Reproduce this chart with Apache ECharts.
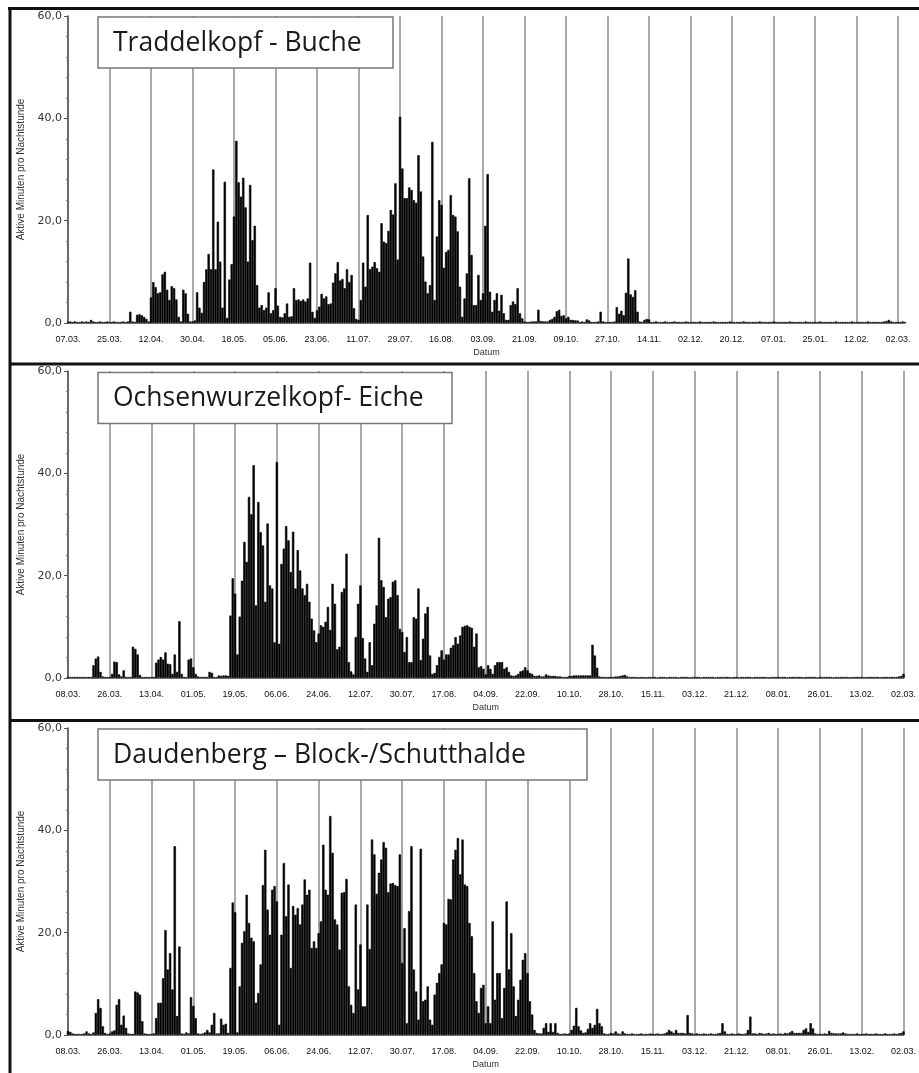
<!DOCTYPE html>
<html>
<head>
<meta charset="utf-8">
<script src="https://cdn.jsdelivr.net/npm/echarts@6/dist/echarts.min.js"></script>
<style>
html,body{margin:0;padding:0;background:#fff;}
#c{width:919px;height:1073px;}
</style>
</head>
<body>
<div id="c"></div>
<script>
// ---------- tick labels ----------
const ticks1 = ['07.03.','25.03.','12.04.','30.04.','18.05.','05.06.','23.06.','11.07.','29.07.','16.08.','03.09.','21.09.','09.10.','27.10.','14.11.','02.12.','20.12.','07.01.','25.01.','12.02.','02.03.'];
const ticks2 = ['08.03.','26.03.','13.04.','01.05.','19.05.','06.06.','24.06.','12.07.','30.07.','17.08.','04.09.','22.09.','10.10.','28.10.','15.11.','03.12.','21.12.','08.01.','26.01.','13.02.','02.03.'];
const ticks3 = ticks2;

const titles = ['Traddelkopf - Buche', 'Ochsenwurzelkopf- Eiche', 'Daudenberg \u2013 Block-/Schutthalde'];
const yName = 'Aktive Minuten pro Nachtstunde';
const xName = 'Datum';

// ---------- daily values (one row per 18-day tick interval) ----------
const values1 = [
0.2,0.3,0.2,0.3,0.2,0.2,0.3,0.2,0.3,0.2,0.6,0.3,0.2,0.2,0.3,0.2,0.2,0.3,
0.2,0.2,0.3,0.2,0.2,0.2,0.3,0.2,0.3,2.2,0.3,0.2,1.6,1.7,1.5,1.2,0.8,0.3,
5.0,8.0,7.0,5.8,6.0,9.5,10.0,6.5,4.5,7.2,6.8,4.6,1.2,0.3,6.5,5.8,1.8,0.3,
0.3,0.5,6.0,3.0,2.0,8.0,10.5,13.5,10.5,30.0,10.5,19.8,12.0,3.0,27.6,1.0,8.5,11.5,
20.8,35.6,27.5,24.7,28.4,22.6,12.0,27.0,16.2,19.0,7.4,3.0,3.5,2.5,3.0,6.0,1.9,2.5,
6.8,3.4,1.2,1.1,1.9,3.8,1.2,1.3,6.8,4.5,4.6,4.3,4.6,4.2,4.8,11.8,2.2,1.0,
2.5,3.2,5.7,4.8,5.2,3.7,3.8,7.9,9.7,11.9,8.3,8.6,6.8,10.5,8.0,9.4,2.9,0.8,
0.6,4.5,11.8,7.1,21.1,10.5,11.0,11.9,10.7,10.0,19.5,15.9,15.6,18.0,22.1,21.2,27.3,12.4,
40.3,30.2,24.4,24.4,26.5,26.0,24.0,23.5,32.8,25.7,13.0,8.1,5.8,7.4,35.4,4.5,16.9,24.0,
23.1,10.8,13.9,14.3,25.0,21.1,20.8,17.9,7.1,1.2,4.8,9.7,28.3,13.3,3.5,3.5,9.4,4.5,
5.8,19.0,29.1,6.1,2.2,4.5,5.8,2.4,5.5,1.9,0.6,0.6,3.5,4.2,3.7,6.8,1.9,0.9,
0.3,0.2,0.2,0.3,0.3,0.3,2.6,0.4,0.3,0.3,0.3,0.6,0.8,1.2,2.3,2.6,1.4,1.5,
0.9,1.2,0.6,0.6,0.5,0.5,0.2,0.3,0.2,0.7,0.5,0.2,0.2,0.2,0.3,2.2,0.3,0.2,
0.2,0.2,0.2,0.3,3.1,1.8,2.4,1.5,5.9,12.6,5.6,5.1,6.4,2.2,0.3,0.2,0.6,0.8,
0.7,0.2,0.2,0.3,0.2,0.2,0.2,0.3,0.2,0.2,0.2,0.3,0.2,0.2,0.2,0.2,0.3,0.2,
0.2,0.2,0.2,0.2,0.3,0.2,0.2,0.2,0.2,0.2,0.3,0.2,0.2,0.2,0.2,0.2,0.2,0.3,
0.2,0.2,0.2,0.2,0.2,0.3,0.2,0.2,0.2,0.2,0.2,0.2,0.3,0.2,0.2,0.2,0.2,0.2,
0.3,0.2,0.2,0.2,0.2,0.2,0.2,0.3,0.2,0.2,0.2,0.2,0.2,0.2,0.3,0.2,0.2,0.2,
0.2,0.2,0.3,0.2,0.2,0.2,0.2,0.2,0.2,0.3,0.2,0.2,0.2,0.2,0.2,0.2,0.3,0.2,
0.2,0.2,0.2,0.2,0.2,0.3,0.2,0.2,0.2,0.2,0.2,0.2,0.3,0.4,0.6,0.3,0.2,0.2,
0.2,0.2,0.3,0.2
];

const values2 = [
0.2,0.2,0.2,0.2,0.2,0.2,0.2,0.2,0.2,0.2,0.2,2.5,3.8,4.2,1.2,0.3,0.2,0.2,
0.2,0.8,3.2,3.1,0.7,0.3,1.5,0.2,0.2,0.2,6.1,5.7,4.6,0.6,0.2,0.2,0.2,0.2,
0.2,0.2,3.0,3.6,4.1,3.6,5.0,2.8,2.7,0.8,4.6,1.2,11.1,0.8,0.2,0.2,3.6,3.8,
2.1,0.8,0.3,0.2,0.2,0.2,0.2,1.2,1.0,0.2,0.2,0.5,0.4,0.5,0.5,0.4,12.2,19.5,
16.5,4.6,12.0,19.0,26.6,22.7,35.4,32.0,41.6,14.2,34.4,28.5,25.9,14.9,30.2,18.1,17.5,7.0,
42.2,6.7,22.3,25.3,29.7,26.9,20.7,28.6,17.5,25.0,21.0,17.5,16.2,18.4,14.9,11.6,9.3,7.0,
8.7,10.3,10.0,11.0,13.9,9.4,18.4,14.5,5.6,6.1,16.8,17.5,24.3,3.1,1.3,0.7,8.0,14.5,
18.1,7.8,3.8,1.2,7.0,2.5,10.6,14.2,27.4,19.1,17.8,11.9,15.5,15.8,18.8,19.1,16.2,9.6,
9.0,5.1,8.0,3.1,3.1,11.9,11.6,17.5,3.5,7.7,12.6,13.9,4.4,0.8,1.0,2.5,4.1,5.4,
3.6,4.6,4.6,5.9,6.4,8.0,6.7,8.3,10.0,10.2,10.3,10.0,9.8,6.1,8.7,2.1,2.3,1.8,
0.7,2.5,1.8,0.8,2.5,3.1,3.1,3.1,1.8,2.1,1.2,0.5,0.4,0.5,0.8,1.3,1.5,2.1,
1.5,1.0,0.8,0.4,0.4,0.5,0.3,0.3,0.7,0.5,0.4,0.4,0.4,0.3,0.3,0.2,0.2,0.2,
0.4,0.4,0.5,0.5,0.5,0.5,0.5,0.5,0.5,0.5,6.5,4.4,2.0,0.3,0.2,0.2,0.2,0.2,
0.2,0.2,0.3,0.3,0.4,0.5,0.6,0.3,0.2,0.2,0.2,0.2,0.1,0.2,0.2,0.1,0.2,0.2,
0.2,0.2,0.1,0.2,0.2,0.2,0.1,0.2,0.2,0.2,0.2,0.1,0.2,0.2,0.2,0.2,0.1,0.2,
0.2,0.2,0.2,0.1,0.2,0.2,0.2,0.2,0.2,0.1,0.2,0.2,0.2,0.2,0.2,0.2,0.1,0.2,
0.2,0.1,0.2,0.2,0.2,0.2,0.2,0.1,0.2,0.2,0.2,0.2,0.2,0.2,0.1,0.2,0.2,0.2,
0.2,0.2,0.2,0.2,0.1,0.2,0.2,0.2,0.2,0.2,0.2,0.1,0.2,0.2,0.2,0.2,0.2,0.1,
0.2,0.2,0.2,0.2,0.2,0.2,0.1,0.2,0.2,0.2,0.2,0.2,0.2,0.1,0.2,0.2,0.2,0.2,
0.2,0.1,0.2,0.2,0.2,0.2,0.2,0.2,0.1,0.2,0.2,0.2,0.2,0.2,0.2,0.2,0.3,0.4,
0.8
];

const values3 = [
0.8,0.6,0.3,0.2,0.2,0.2,0.2,0.3,0.7,0.3,0.2,0.5,4.3,7.0,5.3,1.7,0.4,0.2,
0.3,0.7,0.9,5.9,7.0,2.0,3.8,1.4,0.3,0.2,0.2,8.5,8.3,7.9,2.7,0.3,0.2,0.2,
0.2,0.3,3.3,6.3,6.3,11.1,20.5,12.8,16.0,8.9,36.9,3.7,17.3,0.3,0.2,0.5,0.3,7.4,
5.7,3.3,0.3,0.2,0.3,0.5,1.0,0.5,2.0,4.3,0.3,0.3,3.2,2.0,2.2,0.4,13.1,25.9,
24.0,0.5,9.5,18.0,20.3,27.4,21.9,19.0,18.3,6.3,8.2,13.8,29.3,36.2,24.5,19.6,28.4,29.1,
26.1,2.0,19.6,33.6,23.2,29.4,13.1,25.2,23.5,24.8,21.6,25.5,30.4,27.4,28.4,17.0,18.3,17.0,
19.9,22.2,37.2,28.4,27.4,42.8,35.6,22.6,21.6,16.7,27.8,27.9,30.5,9.5,5.9,4.3,25.5,8.9,
17.7,5.6,5.6,25.5,16.8,38.2,35.3,27.6,31.7,34.3,37.7,36.6,27.9,29.6,29.7,29.3,29.1,35.3,
14.1,20.9,2.3,24.2,36.9,12.8,8.5,3.0,36.4,6.6,6.9,9.5,3.0,2.0,7.9,10.2,12.1,13.8,
21.9,21.6,26.6,26.5,34.3,36.2,38.5,31.4,38.2,29.4,29.1,21.9,19.3,12.1,6.6,4.3,9.2,9.8,
2.3,5.6,2.3,22.2,6.9,12.1,12.1,3.3,9.2,26.1,12.8,19.9,9.5,3.7,6.9,10.8,14.7,16.0,
12.1,6.6,4.0,1.0,0.4,0.3,0.3,1.4,2.3,0.6,2.3,0.6,2.3,0.4,0.2,0.2,0.3,0.2,
0.3,1.0,1.8,5.3,1.7,0.9,0.4,0.5,1.2,2.3,1.4,2.0,5.1,2.3,1.7,0.3,0.2,0.2,
0.4,0.3,0.7,0.3,0.2,0.7,0.3,0.2,0.2,0.3,0.2,0.2,0.2,0.3,0.2,0.2,0.2,0.3,
0.2,0.2,0.3,0.2,0.2,0.3,0.5,1.0,0.7,0.4,1.0,0.4,0.4,0.4,0.3,3.9,0.4,0.3,
0.2,0.3,0.2,0.2,0.3,0.2,0.2,0.3,0.2,0.2,0.3,0.4,2.3,0.7,0.2,0.2,0.3,0.2,
0.2,0.3,0.2,0.2,0.3,1.0,3.6,0.3,0.3,0.2,0.4,0.3,0.2,0.3,0.4,0.2,0.3,0.2,
0.2,0.3,0.2,0.4,0.3,0.5,0.8,0.4,0.4,0.4,0.4,1.0,1.3,0.6,2.3,1.3,0.3,0.2,
0.2,0.2,0.3,0.2,0.8,0.4,0.3,0.3,0.3,0.3,0.5,0.3,0.2,0.2,0.2,0.2,0.3,0.2,
0.2,0.2,0.3,0.2,0.2,0.2,0.3,0.2,0.2,0.2,0.3,0.2,0.2,0.2,0.3,0.2,0.3,0.4,
0.7
];

// ---------- build chart ----------
const panels = [
  { values: values1, ticks: ticks1, title: titles[0] },
  { values: values2, ticks: ticks2, title: titles[1] },
  { values: values3, ticks: ticks3, title: titles[2] }
];
const gridTops = [16, 371, 728];
const panelOffset = [0, 355.5, 712];
const boxW = [295, 354, 489];
const TICK_STEP = 18;

const everyTick = (idx) => idx % TICK_STEP === 0;
const smallFont = '"Liberation Sans", Arial, sans-serif';

const option = {
  animation: false,
  backgroundColor: '#fff',
  grid: panels.map((p, i) => ({ left: 68, width: 837, top: gridTops[i], height: 307, containLabel: false })),
  xAxis: panels.map((p, i) => ({
    type: 'category',
    gridIndex: i,
    data: p.values.map((_, k) => String(k)),
    boundaryGap: false,
    axisLine: { show: true, lineStyle: { color: '#777', width: 1 } },
    axisTick: { show: false, interval: everyTick },
    axisLabel: {
      interval: everyTick,
      formatter: (v, idx) => p.ticks[idx / TICK_STEP] || '',
      margin: 12, fontSize: 9, color: '#111',
      fontFamily: smallFont
    },
    splitLine: { show: true, interval: everyTick, lineStyle: { color: '#8c8c8c', width: 1.5 } },
    name: xName, nameLocation: 'middle', nameGap: 25,
    nameTextStyle: { fontSize: 9, color: '#333', fontFamily: smallFont }
  })),
  yAxis: panels.map((p, i) => ({
    type: 'value', gridIndex: i, min: 0, max: 60, interval: 20,
    axisLine: { show: true, lineStyle: { color: '#555', width: 1.5 } },
    axisTick: { show: true, length: 4, lineStyle: { color: '#555' } },
    minorTick: { show: true, splitNumber: 5, length: 2, lineStyle: { color: '#777' } },
    splitLine: { show: false },
    axisLabel: {
      formatter: (v) => v.toFixed(1).replace('.', ','),
      fontSize: 11, color: '#333', margin: 6,
      fontFamily: '"DejaVu Sans", sans-serif'
    },
    name: yName, nameLocation: 'middle', nameGap: 40,
    nameTextStyle: { fontSize: 10, color: '#333', fontFamily: smallFont }
  })),
  series: panels.map((p, i) => ({
    type: 'bar', xAxisIndex: i, yAxisIndex: i,
    data: p.values, barWidth: '100%',
    itemStyle: { color: '#000', borderColor: '#000', borderWidth: 0.6 }, silent: true
  })),
  graphic: [
    // panel frames
    { type: 'line', shape: { x1: 8, y1: 8.5, x2: 919, y2: 8.5 }, style: { stroke: '#111', lineWidth: 3 }, z: 200 },
    { type: 'line', shape: { x1: 10, y1: 7, x2: 10, y2: 1073 }, style: { stroke: '#111', lineWidth: 3 }, z: 200 },
    { type: 'line', shape: { x1: 10, y1: 364, x2: 919, y2: 364 }, style: { stroke: '#111', lineWidth: 3 }, z: 200 },
    { type: 'line', shape: { x1: 10, y1: 720.5, x2: 919, y2: 720.5 }, style: { stroke: '#111', lineWidth: 3 }, z: 200 }
  ].concat(...panels.map((p, i) => [
    { type: 'rect', shape: { x: 98, y: 17 + panelOffset[i], width: boxW[i], height: 51 },
      style: { fill: '#fff', stroke: '#777', lineWidth: 1.5 }, z: 150 },
    { type: 'text', x: 113, y: 43 + panelOffset[i],
      style: { text: p.title, font: '26.5px "Open Sans", sans-serif', fill: '#1a1a1a', verticalAlign: 'middle', align: 'left' }, z: 160 }
  ]))
};

const chart = echarts.init(document.getElementById('c'), null, { renderer: 'canvas' });
chart.setOption(option);
</script>
</body>
</html>
